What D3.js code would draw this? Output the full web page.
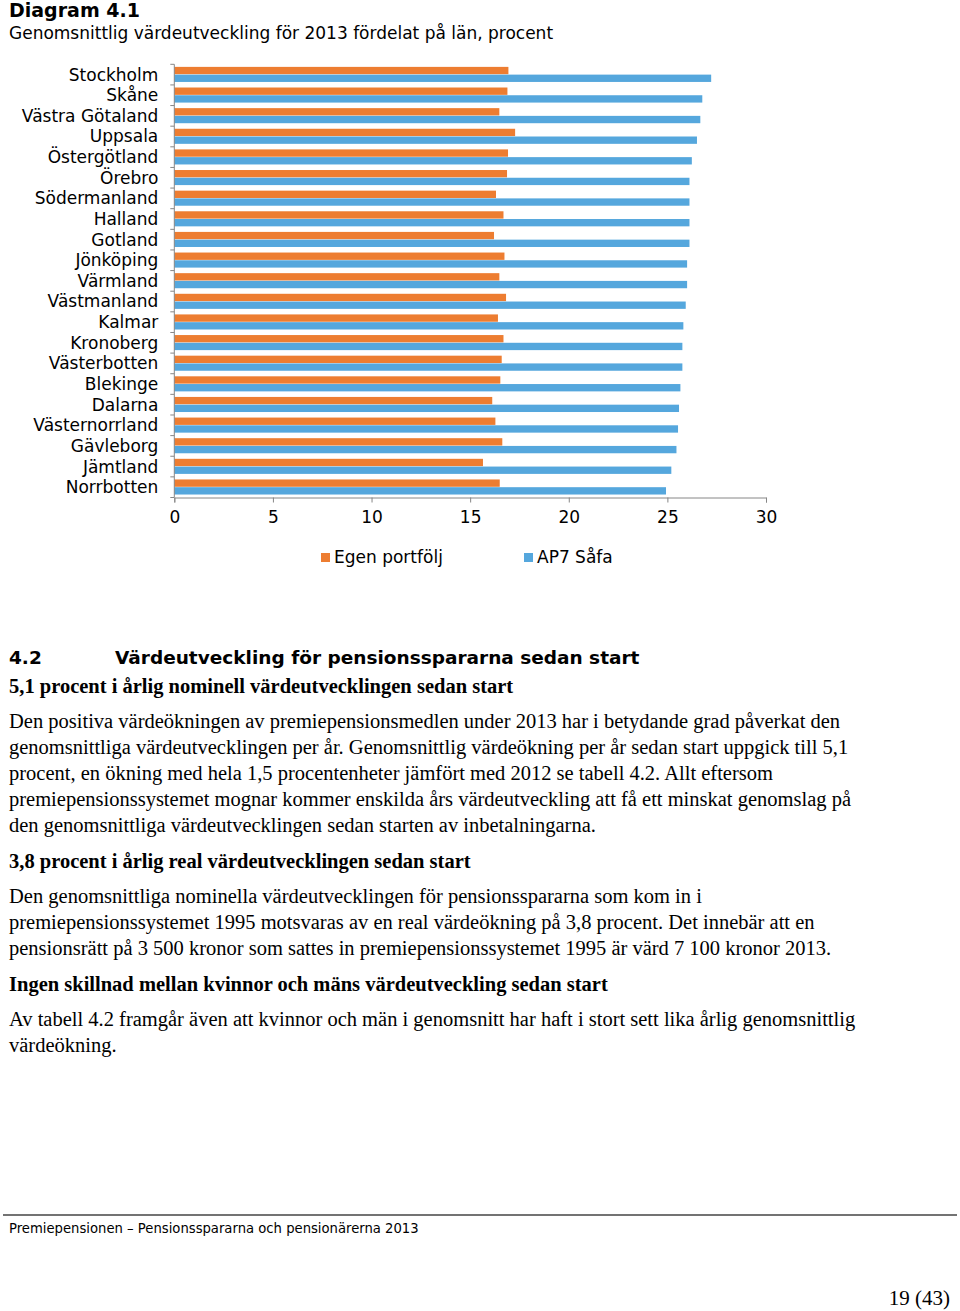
<!DOCTYPE html>
<html><head><meta charset="utf-8">
<script src="https://cdn.jsdelivr.net/npm/d3@7"></script>
<style>body{margin:0;background:#fff}svg{display:block}</style>
</head><body>
<script>
const categories = ["Stockholm","Skåne","Västra Götaland","Uppsala","Östergötland","Örebro","Södermanland","Halland","Gotland","Jönköping","Värmland","Västmanland","Kalmar","Kronoberg","Västerbotten","Blekinge","Dalarna","Västernorrland","Gävleborg","Jämtland","Norrbotten"];
const egenPortfolj = [16.94,16.89,16.48,17.28,16.92,16.87,16.31,16.69,16.21,16.74,16.48,16.82,16.41,16.69,16.60,16.53,16.12,16.28,16.63,15.65,16.50];
const ap7Safa = [27.22,26.77,26.67,26.50,26.24,26.12,26.12,26.12,26.12,26.00,26.00,25.93,25.81,25.76,25.76,25.66,25.59,25.54,25.46,25.20,24.93];
const seriesNames = ["Egen portfölj","AP7 Såfa"];
const xTicks = [0,5,10,15,20,25,30];
const colors = ["#ED7D31","#55A7DD"];

const W=960,H=1311;
const svg=d3.select("body").append("svg").attr("width",W).attr("height",H);
const sans="Verdana, 'DejaVu Sans', sans-serif";
const serif="'Liberation Serif','Times New Roman',serif";

svg.append("text").attr("x",9).attr("y",17).attr("font-family",sans).attr("font-weight","bold").attr("font-size",19).text("Diagram 4.1");
svg.append("text").attr("x",9).attr("y",39).attr("font-family",sans).attr("font-size",17).text("Genomsnittlig värdeutveckling för 2013 fördelat på län, procent");

const x=d3.scaleLinear().domain([0,30]).range([174.3,766]);
const y=d3.scaleBand().domain(categories).range([64.3,497.5]).paddingInner(0.25).paddingOuter(0.125);
const yOuter=d3.scaleBand().domain(categories).range([64.3,497.5]);
const sub=d3.scaleBand().domain([0,1]).range([0,y.bandwidth()]);

const g=svg.append("g");
categories.forEach((c,i)=>{
  [egenPortfolj[i],ap7Safa[i]].forEach((v,k)=>{
    g.append("rect").attr("x",x(0)).attr("y",y(c)+sub(k)).attr("width",x(v)-x(0)).attr("height",sub.bandwidth()-0.4).attr("fill",colors[k]);
  });
});

// y axis
const ya=svg.append("g").attr("transform",`translate(${x(0)},0)`);
ya.append("line").attr("y1",64.3).attr("y2",497.5).attr("stroke","#868686");
const yTickPos=categories.map(c=>yOuter(c)).concat([497.5]);
yTickPos.forEach(p=>ya.append("line").attr("x1",-4).attr("x2",0).attr("y1",p).attr("y2",p).attr("stroke","#868686"));
categories.forEach(c=>ya.append("text").attr("x",-16).attr("y",yOuter(c)+yOuter.bandwidth()/2).attr("dy","0.35em").attr("text-anchor","end").attr("font-family",sans).attr("font-size",17).attr("fill","#000").text(c));

// x axis
const xa=svg.append("g").attr("transform","translate(0,497.5)")
  .call(d3.axisBottom(x).tickValues(xTicks).tickSize(5).tickPadding(8));
xa.select(".domain").attr("stroke","#868686");
xa.selectAll(".tick line").attr("stroke","#868686");
xa.selectAll(".tick text").attr("font-family",sans).attr("font-size",17).attr("fill","#000");

// legend
const leg=[{x:321,name:seriesNames[0],c:colors[0]},{x:524,name:seriesNames[1],c:colors[1]}];
leg.forEach(l=>{
  svg.append("rect").attr("x",l.x).attr("y",553).attr("width",9).attr("height",9).attr("fill",l.c);
  svg.append("text").attr("x",l.x+13).attr("y",563).attr("font-family",sans).attr("font-size",17).text(l.name);
});

// body text
svg.append("text").attr("x",9).attr("y",664).attr("font-family",sans).attr("font-weight","bold").attr("font-size",18.5).text("4.2");
svg.append("text").attr("x",115).attr("y",664).attr("font-family",sans).attr("font-weight","bold").attr("font-size",18.5).text("Värdeutveckling för pensionsspararna sedan start");

const blocks=[
 {t:"5,1 procent i årlig nominell värdeutvecklingen sedan start",y:693,b:true},
 {t:"Den positiva värdeökningen av premiepensionsmedlen under 2013 har i betydande grad påverkat den",y:728},
 {t:"genomsnittliga värdeutvecklingen per år. Genomsnittlig värdeökning per år sedan start uppgick till 5,1",y:754},
 {t:"procent, en ökning med hela 1,5 procentenheter jämfört med 2012 se tabell 4.2. Allt eftersom",y:780},
 {t:"premiepensionssystemet mognar kommer enskilda års värdeutveckling att få ett minskat genomslag på",y:806},
 {t:"den genomsnittliga värdeutvecklingen sedan starten av inbetalningarna.",y:832},
 {t:"3,8 procent i årlig real värdeutvecklingen sedan start",y:868,b:true},
 {t:"Den genomsnittliga nominella värdeutvecklingen för pensionsspararna som kom in i",y:903},
 {t:"premiepensionssystemet 1995 motsvaras av en real värdeökning på 3,8 procent. Det innebär att en",y:929},
 {t:"pensionsrätt på 3 500 kronor som sattes in premiepensionssystemet 1995 är värd 7 100 kronor 2013.",y:955},
 {t:"Ingen skillnad mellan kvinnor och mäns värdeutveckling sedan start",y:991,b:true},
 {t:"Av tabell 4.2 framgår även att kvinnor och män i genomsnitt har haft i stort sett lika årlig genomsnittlig",y:1026},
 {t:"värdeökning.",y:1052}
];
blocks.forEach(b=>svg.append("text").attr("x",9).attr("y",b.y).attr("font-family",serif).attr("font-size",20.5).attr("font-weight",b.b?"bold":"normal").text(b.t));

svg.append("line").attr("x1",3).attr("x2",957).attr("y1",1215).attr("y2",1215).attr("stroke","#444").attr("stroke-width",1.5);
svg.append("text").attr("x",9).attr("y",1233).attr("font-family",sans).attr("font-size",13.2).text("Premiepensionen – Pensionsspararna och pensionärerna 2013");
svg.append("text").attr("x",950).attr("y",1305).attr("text-anchor","end").attr("font-family",serif).attr("font-size",21).text("19 (43)");
</script>
</body></html>
